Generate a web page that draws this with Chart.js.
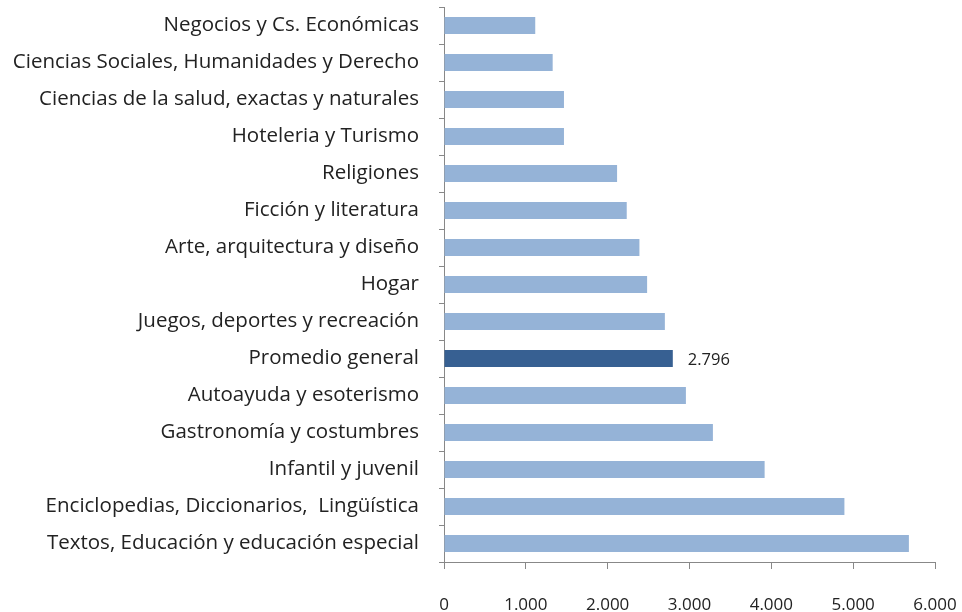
<!DOCTYPE html>
<html>
<head>
<meta charset="utf-8">
<script src="https://cdn.jsdelivr.net/npm/chart.js@4"></script>
<style>
  html, body { margin: 0; padding: 0; background: #fff; }
  #wrap { width: 962px; height: 612px; }
</style>
</head>
<body>
<div id="wrap"><canvas id="chart"></canvas></div>
<script>
const categories = [
    'Negocios y Cs. Económicas',
    'Ciencias Sociales, Humanidades y Derecho',
    'Ciencias de la salud, exactas y naturales',
    'Hoteleria y Turismo',
    'Religiones',
    'Ficción y literatura',
    'Arte, arquitectura y diseño',
    'Hogar',
    'Juegos, deportes y recreación',
    'Promedio general',
    'Autoayuda y esoterismo',
    'Gastronomía y costumbres',
    'Infantil y juvenil',
    'Enciclopedias, Diccionarios,  Lingüística',
    'Textos, Educación y educación especial'
];
const values = [1115, 1328, 1466, 1466, 2115, 2233, 2388, 2482, 2699, 2796, 2956, 3286, 3918, 4893, 5681];
const highlight = 'Promedio general';
const xTicks = [0, 1000, 2000, 3000, 4000, 5000, 6000];

const fmt = v => v.toLocaleString('de-DE');

// etiqueta solo para el promedio
const promedioLabel = {
    id: 'promedioLabel',
    afterDatasetsDraw(chart) {
        const i = categories.indexOf(highlight);
        const bar = chart.getDatasetMeta(0).data[i];
        const c = chart.ctx;
        c.save();
        c.font = '16.5px "Open Sans"';
        c.fillStyle = '#222';
        c.textBaseline = 'middle';
        c.fillText(fmt(values[i]), bar.x + 15, bar.y + 2);
        c.restore();
    }
};

const ctx = document.getElementById('chart');
new Chart(ctx, {
    type: 'bar',
    data: {
        labels: categories,
        datasets: [{
            data: values,
            backgroundColor: categories.map(c => c === highlight ? '#376092' : '#95B3D7'),
            barPercentage: 0.46,
            categoryPercentage: 1
        }]
    },
    options: {
        indexAxis: 'y',
        responsive: true,
        maintainAspectRatio: false,
        animation: false,
        layout: { padding: { top: 7, right: 27 } },
        plugins: {
            legend: { display: false },
            tooltip: { enabled: false }
        },
        scales: {
            x: {
                min: 0,
                max: 6000,
                afterBuildTicks: s => { s.ticks = xTicks.map(v => ({ value: v })); },
                afterFit: s => {
                    s.height = 50;
                    s.paddingLeft = 0;
                    s.paddingRight = 0;
                },
                border: { color: '#888', width: 1 },
                grid: { drawOnChartArea: false, color: '#888', tickLength: 7 },
                ticks: {
                    padding: 26,
                    color: '#222',
                    font: { family: 'Open Sans', size: 17 },
                    callback: v => fmt(v)
                }
            },
            y: {
                afterFit: s => {
                    s.width = 444;
                    s.paddingTop = 0;
                    s.paddingBottom = 0;
                },
                border: { color: '#888', width: 1 },
                grid: { drawOnChartArea: false, color: '#888', tickLength: 5, offset: true },
                ticks: {
                    padding: 20,
                    color: '#222',
                    font: { family: 'Open Sans', size: 20.5 }
                }
            }
        }
    },
    plugins: [promedioLabel]
});
</script>
</body>
</html>
